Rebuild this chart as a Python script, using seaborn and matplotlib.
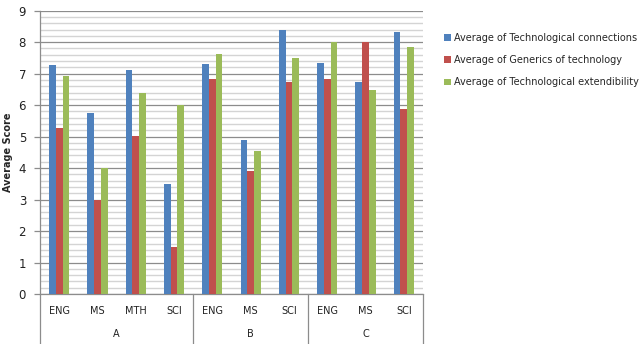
import numpy as np
import pandas as pd
import matplotlib
matplotlib.use("Agg")
import matplotlib.pyplot as plt
import seaborn as sns
from matplotlib.ticker import MultipleLocator
from matplotlib.transforms import blended_transform_factory

# Category structure: outer group and inner subject
groups = ["A", "A", "A", "A", "B", "B", "B", "C", "C", "C"]
subjects = ["ENG", "MS", "MTH", "SCI", "ENG", "MS", "SCI", "ENG", "MS", "SCI"]

# Series values
tech_connections = [7.27, 5.75, 7.12, 3.49, 7.31, 4.88, 8.38, 7.34, 6.74, 8.32]
generics_tech = [5.28, 3.00, 5.01, 1.50, 6.82, 3.91, 6.74, 6.82, 8.00, 5.88]
tech_extendibility = [6.91, 3.99, 6.39, 6.00, 7.63, 4.53, 7.51, 8.00, 6.49, 7.86]

series_names = [
    "Average of Technological connections",
    "Average of Generics of technology",
    "Average of Technological extendibility",
]
palette = ["#4F81BD", "#C0504D", "#9BBB59"]

keys = [f"{g}|{s}" for g, s in zip(groups, subjects)]
df = pd.DataFrame({
    "key": keys * 3,
    "series": np.repeat(series_names, len(keys)),
    "value": tech_connections + generics_tech + tech_extendibility,
})

sns.set_theme(style="white")
plt.rcParams["font.family"] = ["DejaVu Sans"]

fig = plt.figure(figsize=(6.44, 3.44), dpi=100)
ax = fig.add_axes([40 / 644, 50 / 344, 383 / 644, 283.3 / 344])

sns.barplot(data=df, x="key", y="value", hue="series", order=keys,
            hue_order=series_names, palette=palette, width=0.53,
            saturation=1, linewidth=0, edgecolor="none", ax=ax, zorder=3)

ax.set_ylim(0, 9)
ax.set_xlim(-0.5, len(keys) - 0.5)
ax.yaxis.set_major_locator(MultipleLocator(1))
ax.yaxis.set_minor_locator(MultipleLocator(0.2))
ax.grid(which="minor", axis="y", color="#d4d4d4", linewidth=1.0, zorder=0)
ax.grid(which="major", axis="y", color="#8c8c8c", linewidth=0.9, zorder=1)
ax.set_axisbelow(True)

for side in ["top", "right"]:
    ax.spines[side].set_visible(False)
ax.spines["left"].set_color("#8c8c8c")
ax.spines["bottom"].set_color("#8c8c8c")
ax.spines["left"].set_linewidth(0.9)
ax.spines["bottom"].set_linewidth(0.9)

ax.tick_params(axis="y", which="major", left=True, length=4, width=0.9,
               color="#8c8c8c", labelsize=8.5, pad=6, labelcolor="#222222")
ax.tick_params(axis="y", which="minor", left=False)
ax.tick_params(axis="x", bottom=False, length=0, labelsize=7, pad=9,
               labelcolor="#222222")
ax.set_xticks(range(len(keys)))
ax.set_xticklabels(subjects)
ax.set_xlabel("")
ax.set_ylabel("Average Score", fontsize=7, fontweight="bold", labelpad=4)

# Outer group labels and separators below the axis
trans = blended_transform_factory(ax.transData, ax.transAxes)
bottom_frac = -50 / 283.3
bounds = [-0.5]
names = []
for g in groups:
    if not names or names[-1] != g:
        names.append(g)
for g in names:
    bounds.append(bounds[-1] + groups.count(g))
for b in bounds:
    ax.plot([b, b], [0, bottom_frac], transform=trans, color="#8c8c8c",
            linewidth=0.9, clip_on=False)
for g, lo, hi in zip(names, bounds[:-1], bounds[1:]):
    ax.text((lo + hi) / 2, -40 / 283.3, g, transform=trans, ha="center",
            va="center", fontsize=7, color="#222222")

ax.legend(loc="upper left", bbox_to_anchor=(1.045, 0.935), frameon=False,
          fontsize=7, handlelength=0.7, handleheight=0.7, handletextpad=0.35,
          labelspacing=1.25, borderaxespad=0)

fig.savefig("out.png", dpi=100)
